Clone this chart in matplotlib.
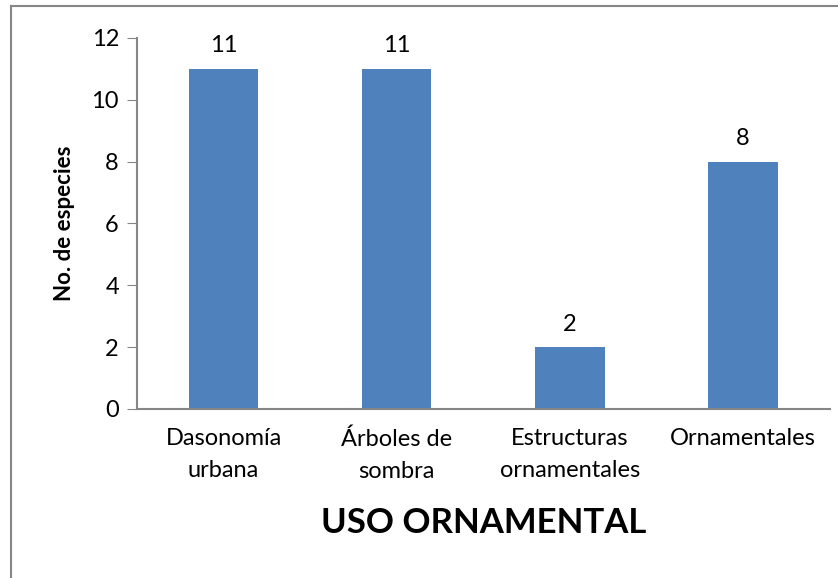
import matplotlib
matplotlib.use("Agg")
import matplotlib.pyplot as plt
from matplotlib.lines import Line2D

categorias = ["Dasonomía\nurbana", "Árboles de\nsombra", "Estructuras\nornamentales", "Ornamentales"]
especies = [11, 11, 2, 8]

plt.rcParams['font.family'] = ['Lato', 'DejaVu Sans']

fig = plt.figure(figsize=(8.38, 5.78), dpi=100)
ax = fig.add_axes([0.1635, 0.2924, 0.8265, 0.6419])

x = list(range(len(categorias)))
barras = ax.bar(x, especies, width=0.4, color='#4F81BD')

# etiquetas de valor encima de cada barra
for xi, v in zip(x, especies):
    ax.annotate(str(v), (xi, v), xytext=(0, 9), textcoords='offset points',
                ha='center', va='bottom', fontsize=17)

ax.set_xlim(-0.5, len(categorias) - 0.5)
ax.set_ylim(0, 12)
ax.set_yticks(range(0, 13, 2))
ax.set_xticks(x)
ax.set_xticklabels(categorias, fontsize=17, linespacing=1.65)
ax.tick_params(axis='y', labelsize=17, length=7, color='#868686', pad=6)
ax.tick_params(axis='x', length=0, pad=14)

for lado in ['top', 'right']:
    ax.spines[lado].set_visible(False)
for lado in ['left', 'bottom']:
    ax.spines[lado].set_color('#868686')
    ax.spines[lado].set_linewidth(1.5)

ax.set_ylabel('No. de especies', fontsize=16, fontweight='bold', labelpad=12)
ax.set_xlabel('USO ORNAMENTAL', fontsize=25, fontweight='bold', labelpad=18)

# borde del gráfico (solo arriba e izquierda son visibles)
fig.add_artist(Line2D([11/838, 11/838], [0, 1 - 6/578], transform=fig.transFigure,
                      color='#868686', lw=1.5))
fig.add_artist(Line2D([11/838, 1], [1 - 6/578, 1 - 6/578], transform=fig.transFigure,
                      color='#868686', lw=1.5))

fig.savefig('out.png', dpi=100)
